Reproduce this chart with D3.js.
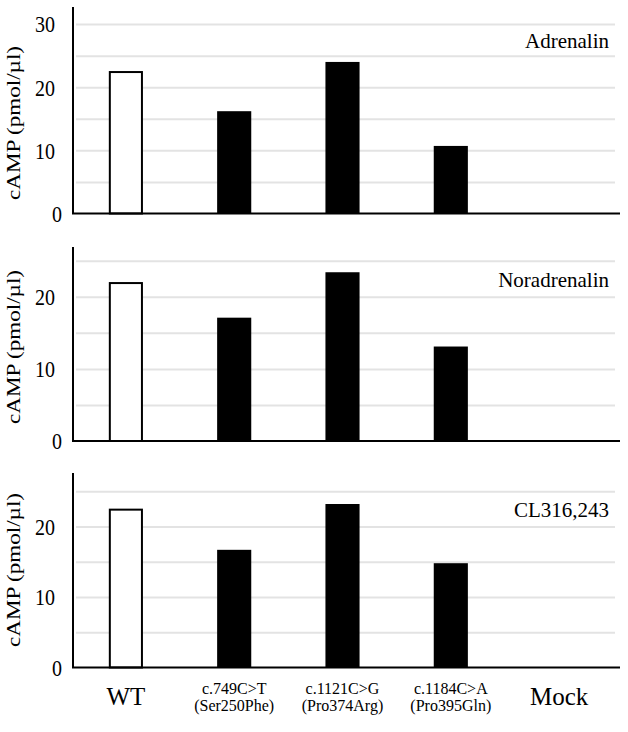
<!DOCTYPE html>
<html><head><meta charset="utf-8">
<script src="https://cdn.jsdelivr.net/npm/d3@7"></script>
<style>
body{margin:0;background:#fff}
svg{display:block}
svg text{font-family:"Liberation Serif","DejaVu Serif",serif;fill:#000}
</style>
</head><body>
<svg id="c" width="628" height="732" font-family="Liberation Serif, DejaVu Serif, serif"></svg>
<script>
// ---- data ----
const categories = ["WT", "c.749C>T", "c.1121C>G", "c.1184C>A", "Mock"];
const subLabels = ["", "(Ser250Phe)", "(Pro374Arg)", "(Pro395Gln)", ""];
const adrenalin = [22.4, 16.2, 24.0, 10.7, 0];
const noradrenalin = [21.9, 17.1, 23.4, 13.1, 0];
const cl316243 = [22.4, 16.7, 23.2, 14.8, 0];
const panelNames = ["Adrenalin", "Noradrenalin", "CL316,243"];
const yTickLabels = [[0, 10, 20, 30], [0, 10, 20], [0, 10, 20]];
const gridValues = [[5, 10, 15, 20, 25, 30], [5, 10, 15, 20, 25], [5, 10, 15, 20, 25]];
const yAxisTitle = "cAMP (pmol/µl)";

// ---- layout ----
const series = [adrenalin, noradrenalin, cl316243];
const panels = [
  {top: 7, bottom: 213.5, max: 32.7, titleY: 48, labelCY: 123},
  {top: 247, bottom: 441, max: 26.9, titleY: 287, labelCY: 347},
  {top: 473, bottom: 667.5, max: 27.6, titleY: 517, labelCY: 570}
];
const axisX = 73, gridX0 = 76, gridX1 = 615, baseX1 = 620;
const FONT = "Liberation Serif, DejaVu Serif, serif";

const svg = d3.select("#c");
const x = d3.scaleBand().domain(categories).range([72, 613]).paddingInner(0.685).paddingOuter(0.34);

panels.forEach((p, i) => {
  const y = d3.scaleLinear().domain([0, p.max]).range([p.bottom, p.top]);
  const g = svg.append("g");

  // gridlines
  g.append("g")
    .attr("transform", `translate(${gridX0},0)`)
    .call(d3.axisLeft(y).tickValues(gridValues[i]).tickSize(-(gridX1 - gridX0)).tickFormat(""))
    .call(s => {
      s.select(".domain").remove();
      s.selectAll(".tick line").attr("stroke", "#e3e3e3").attr("stroke-width", 2);
    });

  // bars
  g.selectAll("rect.bar").data(series[i]).join("rect")
    .attr("class", "bar")
    .attr("x", (d, j) => x(categories[j]) + (j === 0 ? 1 : 0))
    .attr("width", (d, j) => x.bandwidth() - (j === 0 ? 2 : 0))
    .attr("y", d => y(d))
    .attr("height", d => y(0) - y(d))
    .attr("fill", (d, j) => j === 0 ? "#fff" : "#000")
    .attr("stroke", (d, j) => j === 0 ? "#000" : "none")
    .attr("stroke-width", 2)
    .style("display", d => d > 0 ? null : "none");

  // axis lines
  g.append("line").attr("x1", axisX).attr("x2", axisX).attr("y1", p.top).attr("y2", y(0))
    .attr("stroke", "#000").attr("stroke-width", 2);
  g.append("line").attr("x1", axisX - 1).attr("x2", baseX1).attr("y1", y(0)).attr("y2", y(0))
    .attr("stroke", "#000").attr("stroke-width", 2);

  // y tick labels
  g.selectAll("text.tick").data(yTickLabels[i]).join("text")
    .attr("class", "tick")
    .attr("transform", d => `translate(${d === 0 ? axisX - 11 : axisX - 18},${y(d)}) scale(1,1.2)`)
    .attr("text-anchor", "end")
    .attr("dy", "0.35em")
    .attr("font-family", FONT)
    .style("font-size", "20px")
    .text(d => d);

  // y axis title
  g.append("text")
    .attr("transform", `translate(20,${p.labelCY}) rotate(-90)`)
    .attr("text-anchor", "middle")
    .attr("textLength", 154)
    .attr("lengthAdjust", "spacingAndGlyphs")
    .attr("font-family", FONT)
    .style("font-size", "19px")
    .text(yAxisTitle);

  // panel title
  g.append("text")
    .attr("x", 609).attr("y", p.titleY)
    .attr("text-anchor", "end")
    .attr("font-family", FONT)
    .style("font-size", "21px")
    .text(panelNames[i]);
});

// category labels
const cx = c => x(c) + x.bandwidth() / 2;
categories.forEach((c, j) => {
  if (subLabels[j] === "") {
    svg.append("text")
      .attr("x", cx(c)).attr("y", 705)
      .attr("text-anchor", "middle")
      .attr("font-family", FONT)
      .style("font-size", "25px")
      .text(c);
  } else {
    svg.append("text")
      .attr("x", cx(c)).attr("y", 694)
      .attr("text-anchor", "middle")
      .attr("font-family", FONT)
      .style("font-size", "16px")
      .text(c);
    svg.append("text")
      .attr("x", cx(c)).attr("y", 711)
      .attr("text-anchor", "middle")
      .attr("font-family", FONT)
      .style("font-size", "16px")
      .text(subLabels[j]);
  }
});
</script>
</body></html>
